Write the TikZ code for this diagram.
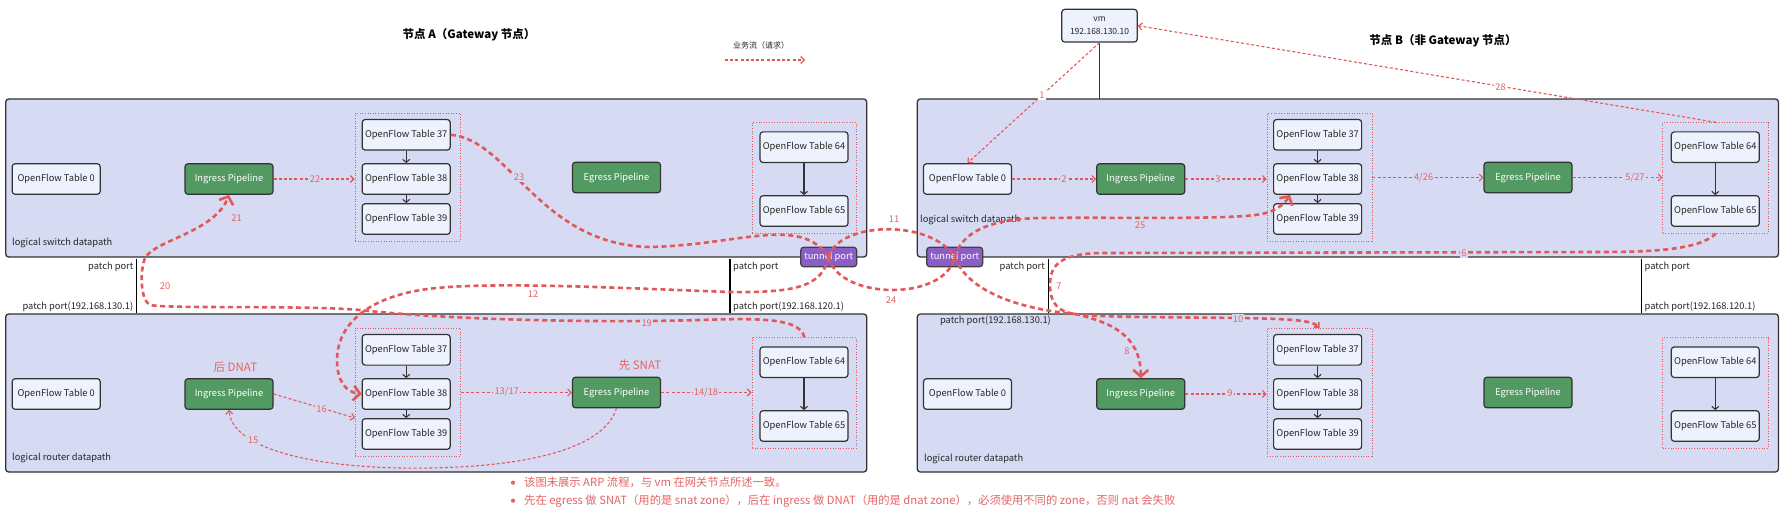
\documentclass[tikz,border=0pt]{standalone}
\usepackage{fontspec}
\setmainfont{Noto Sans CJK SC}
\usetikzlibrary{arrows.meta,calc}
\definecolor{panelc}{RGB}{214,219,243}
\definecolor{boxc}{RGB}{238,242,252}
\definecolor{greenc}{RGB}{82,154,98}
\definecolor{purc}{RGB}{138,93,199}
\definecolor{flowc}{RGB}{226,88,88}
\definecolor{labc}{RGB}{228,100,100}
\definecolor{edgec}{RGB}{51,51,51}
\newcommand\myfs{\fontsize{9.3pt}{11pt}\selectfont}
\newcommand\mytitlefs{\fontsize{11.5pt}{13pt}\selectfont\bfseries}
\newcommand\mynotefs{\fontsize{11.3pt}{13pt}\selectfont}
\tikzset{
  panel/.style={draw=edgec, fill=panelc, line width=1.3pt, rounded corners=3pt},
  grp/.style={draw=flowc, line width=0.9pt, dash pattern=on 1pt off 1.6pt, inner sep=0pt},
  tbl/.style={draw=edgec, fill=boxc, line width=1.2pt, rounded corners=3pt, minimum width=88pt, minimum height=30.6pt, inner sep=0pt, font=\myfs, text=black!85},
  pipe/.style={tbl, fill=greenc, text=white},
  tun/.style={draw=black!75, fill=purc, text=white, line width=1.2pt, rounded corners=3pt, minimum width=56pt, minimum height=19.5pt, inner sep=0pt, font=\myfs},
  flow/.style={draw=flowc, line width=1.1pt, dash pattern=on 3pt off 2.2pt, -{Straight Barb[length=3.5pt,width=7pt,line width=1.1pt]}},
  tflow/.style={draw=flowc, line width=2.6pt, dash pattern=on 5pt off 3.5pt},
  bigtip/.style={-{Straight Barb[length=6.5pt,width=15pt,line width=2.6pt]}},
  smalltip/.style={-{Straight Barb[length=3.5pt,width=7pt,line width=1.6pt]}},
  blk/.style={draw=edgec, line width=1.1pt, -{Straight Barb[length=3pt,width=7pt,line width=1.1pt]}},
  lab/.style={font=\myfs, text=labc, fill=panelc, inner sep=1.2pt},
  labw/.style={font=\myfs, text=labc, fill=white, inner sep=1.2pt},
  labn/.style={font=\myfs, text=labc, inner sep=0pt},
  ptxt/.style={font=\myfs, text=black!85, inner sep=0pt},
}
\begin{document}
\begin{tikzpicture}[x=1pt,y=-1pt]
\useasboundingbox (0,0) rectangle (1787,513);
\fill[white] (0,0) rectangle (1787,513);

% panels
\draw[panel] (5.7,99) rectangle (866.7,257);
\draw[panel] (5.7,314) rectangle (866.7,472);
\draw[panel] (917.3,99) rectangle (1778.4,257);
\draw[panel] (917.3,314) rectangle (1778.4,472);

% titles and legend
\node[font=\mytitlefs] (tA) at (469,35) {节点 A（Gateway 节点）};
\node[font=\mytitlefs] (tB) at (1443,40.7) {节点 B（非 Gateway 节点）};
\node[font=\fontsize{8pt}{10pt}\selectfont, text=black!85] (lgt) at (761,45) {业务流（请求）};
\coordinate (lg1) at (725,60);
\coordinate (lg2) at (805,60);
\draw[flow] (lg1) -- (lg2);

% groups
\node[grp, minimum width=105.4pt, minimum height=127.7pt] (aG1) at (407.7,177.2) {};
\node[grp, minimum width=104.7pt, minimum height=110.3pt] (aG2) at (804.3,177.9) {};
\node[grp, minimum width=105pt, minimum height=127.7pt] (bG1) at (1319.5,177.2) {};
\node[grp, minimum width=106pt, minimum height=110.3pt] (bG2) at (1715.8,177.9) {};
\node[grp, minimum width=105.4pt, minimum height=127.7pt] (arG1) at (407.7,392.2) {};
\node[grp, minimum width=104.7pt, minimum height=110.3pt] (arG2) at (804.3,392.9) {};
\node[grp, minimum width=105pt, minimum height=127.7pt] (brG1) at (1319.5,392.2) {};
\node[grp, minimum width=106pt, minimum height=110.3pt] (brG2) at (1715.8,392.9) {};

% node A switch
\node[tbl] (aOF0) at (56.2,179) {OpenFlow Table 0};
\node[pipe] (aIng) at (229,179) {Ingress Pipeline};
\node[tbl] (aT37) at (406.2,134.8) {OpenFlow Table 37};
\node[tbl] (aT38) at (406.2,179) {OpenFlow Table 38};
\node[tbl] (aT39) at (406.2,219) {OpenFlow Table 39};
\node[pipe] (aEgr) at (616.5,177.5) {Egress Pipeline};
\node[tbl] (aT64) at (804,147.2) {OpenFlow Table 64};
\node[tbl] (aT65) at (804,211) {OpenFlow Table 65};
% node A router
\node[tbl] (arOF0) at (56.2,394) {OpenFlow Table 0};
\node[pipe] (arIng) at (229,394) {Ingress Pipeline};
\node[tbl] (arT37) at (406.2,349.8) {OpenFlow Table 37};
\node[tbl] (arT38) at (406.2,394) {OpenFlow Table 38};
\node[tbl] (arT39) at (406.2,434) {OpenFlow Table 39};
\node[pipe] (arEgr) at (616.5,392.5) {Egress Pipeline};
\node[tbl] (arT64) at (804,362.2) {OpenFlow Table 64};
\node[tbl] (arT65) at (804,426) {OpenFlow Table 65};
% node B switch
\node[tbl] (bOF0) at (967.5,179) {OpenFlow Table 0};
\node[pipe] (bIng) at (1140.7,179) {Ingress Pipeline};
\node[tbl] (bT37) at (1317.6,134.8) {OpenFlow Table 37};
\node[tbl] (bT38) at (1317.6,179) {OpenFlow Table 38};
\node[tbl] (bT39) at (1317.6,219) {OpenFlow Table 39};
\node[pipe] (bEgr) at (1528,177.5) {Egress Pipeline};
\node[tbl] (bT64) at (1715.3,147.2) {OpenFlow Table 64};
\node[tbl] (bT65) at (1715.3,211) {OpenFlow Table 65};
% node B router
\node[tbl] (brOF0) at (967.5,394) {OpenFlow Table 0};
\node[pipe] (brIng) at (1140.7,394) {Ingress Pipeline};
\node[tbl] (brT37) at (1317.6,349.8) {OpenFlow Table 37};
\node[tbl] (brT38) at (1317.6,394) {OpenFlow Table 38};
\node[tbl] (brT39) at (1317.6,434) {OpenFlow Table 39};
\node[pipe] (brEgr) at (1528,392.5) {Egress Pipeline};
\node[tbl] (brT64) at (1715.3,362.2) {OpenFlow Table 64};
\node[tbl] (brT65) at (1715.3,426) {OpenFlow Table 65};

% black arrows
\foreach \p in {a,ar,b,br}{
  \draw[blk] (\p T37.south) -- (\p T38.north);
  \draw[blk] (\p T38.south) -- (\p T39.north);
  \draw[blk] (\p T64.south) -- (\p T65.north);
}

% panel labels
\node[ptxt, anchor=west] (dA1) at (12,243) {logical switch datapath};
\node[ptxt, anchor=west] (dB1) at (920,219.5) {logical switch datapath};
\node[ptxt, anchor=west] (dA2) at (12,458) {logical router datapath};
\node[ptxt, anchor=west] (dB2) at (924,458.5) {logical router datapath};

% vm
\node[tbl, minimum width=75.5pt, minimum height=32.7pt, align=center, font=\fontsize{8.5pt}{13pt}\selectfont] (vm) at (1099.5,25.7) {vm\\192.168.130.10};
\coordinate (vmB) at (1099.5,99);
\draw[edgec, line width=1.1pt] (vm.south) -- (vmB);

% patch ports
\coordinate (p1a) at (136.6,258.5); \coordinate (p1b) at (136.6,312.5);
\coordinate (p2a) at (730,258.5); \coordinate (p2b) at (730,312.5);
\coordinate (p3a) at (1048.3,258.5); \coordinate (p3b) at (1048.3,312.5);
\coordinate (p4a) at (1641.4,258.5); \coordinate (p4b) at (1641.4,312.5);
\foreach \q in {1,2,3,4}{\draw[black, line width=1.2pt] (p\q a) -- (p\q b);}
\node[ptxt, anchor=east] (pt1) at (133.5,266.7) {patch port};
\node[ptxt, anchor=east] (pt2) at (133.5,306.7) {patch port(192.168.130.1)};
\node[ptxt, anchor=west] (pt3) at (733,266.7) {patch port};
\node[ptxt, anchor=west] (pt4) at (733,306.7) {patch port(192.168.120.1)};
\node[ptxt, anchor=east] (pt5) at (1045,266.7) {patch port};
\node[ptxt, anchor=east] (pt6) at (1051,320.7) {patch port(192.168.130.1)};
\node[ptxt, anchor=west] (pt7) at (1644.5,266.7) {patch port};
\node[ptxt, anchor=west] (pt8) at (1644.5,306.7) {patch port(192.168.120.1)};

% tunnel ports
\node[tun] (aTun) at (828.7,257) {tunnel port};
\node[tun] (bTun) at (954.7,257) {tunnel port};

% NAT notes
\node[font=\fontsize{11.5pt}{13pt}\selectfont, text=labc] (tDN) at (235.4,366.7) {后 DNAT};
\node[font=\fontsize{11.5pt}{13pt}\selectfont, text=labc] (tSN) at (640,365) {先 SNAT};

% thin flows
\draw[flow] (vm.south) -- (bOF0.north);
\draw[flow] (bOF0.east) -- (bIng.west);
\draw[flow] (bIng.east) -- (bIng.east -| bG1.west);
\draw[flow] (bG1.east |- bEgr.west) -- (bEgr.west);
\draw[flow] (bEgr.east) -- (bEgr.east -| bG2.west);
\draw[flow] (bG2.north) -- (vm.east);
\draw[flow] (aIng.east) -- (aIng.east -| aG1.west);
\draw[flow] (brIng.east) -- (brIng.east -| brG1.west);
\draw[flow] (arG1.east |- arEgr.west) -- (arEgr.west);
\draw[flow] (arEgr.east) -- (arEgr.east -| arG2.west);
\coordinate (c16) at (355,418);
\draw[flow] (arIng.east) -- (c16);
\draw[flow] (arEgr.south) .. controls (605,445) and (540,466) .. (430,468) .. controls (320,470) and (232,450) .. (arIng.south);

% thick flows
\coordinate (J) at (1075,314);
\draw[tflow] (aT37.east) .. controls (510,140) and (540,245) .. (650,247) .. controls (740,245) and (800,215) .. (aTun.center);
\draw[tflow] (aTun.center) .. controls (838,222) and (930,218) .. (bTun.center);
\draw[tflow] (aTun.center) .. controls (838,300) and (945,302) .. (bTun.center);
\draw[tflow, bigtip] (aTun.center) .. controls (822,285) and (800,293) .. (730,292) .. controls (640,289) and (480,280) .. (421,290) .. controls (360,300) and (337,330) .. (337,360) .. controls (337,380) and (345,392) .. (arT38.west);
\draw[tflow, bigtip] (arG2.north) .. controls (800,318) and (760,318) .. (700,320) .. controls (600,323) and (450,320) .. (360,310) .. controls (300,305) and (170,309) .. (150,305) .. controls (140,300) and (140,270) .. (145,258) .. controls (155,240) and (215,232) .. (aIng.south);
\draw[tflow, bigtip] (bTun.center) .. controls (962,232) and (990,219) .. (1040,218) .. controls (1120,217) and (1230,220) .. (1262,214) .. controls (1275,211) and (1284,205) .. ($(bT38.south west)+(17,0)$);
\draw[tflow] (bG2.south) .. controls (1700,250) and (1650,252) .. (1600,252) -- (1100,253) .. controls (1060,254) and (1050,265) .. (1050,285) .. controls (1050,305) and (1060,312) .. (J);
\draw[tflow] (bTun.center) .. controls (968,292) and (1020,309) .. (J);
\draw[tflow, bigtip] (J) .. controls (1110,322) and (1141,335) .. (brIng.north);
\draw[tflow, smalltip] (J) .. controls (1090,317) and (1150,317) .. (1240,318) .. controls (1290,319) and (1312,320) .. (brG1.north);

% flow labels
\node[labw] (n1) at (1042,95) {1};
\node[lab] (n2) at (1064,179) {2};
\node[lab] (n3) at (1218,179) {3};
\node[lab] (n4) at (1423.6,177.5) {4/26};
\node[lab] (n5) at (1635,177.5) {5/27};
\node[lab] (n6) at (1464,253) {6};
\node[labn] (n7) at (1059,286) {7};
\node[labn] (n8) at (1127,351) {8};
\node[lab] (n9) at (1230,393.5) {9};
\node[lab] (n10) at (1238,319) {10};
\node[labn] (n11) at (894,219) {11};
\node[labn] (n12) at (533,294) {12};
\node[lab] (n13) at (506.7,392) {13/17};
\node[lab] (n14) at (706,393) {14/18};
\node[lab] (n15) at (253,440) {15};
\node[lab] (n16) at (321.5,409) {16};
\node[lab] (n19) at (646.7,323) {19};
\node[labn] (n20) at (165,286) {20};
\node[labn] (n21) at (236.5,218.5) {21};
\node[lab] (n22) at (315,179) {22};
\node[lab] (n23) at (519,177) {23};
\node[labn] (n24) at (891,300) {24};
\node[labn] (n25) at (1140,225) {25};
\node[labw] (n28) at (1500.5,87) {28};

% notes
\fill[labc] (513,482.7) circle (2.1pt);
\fill[labc] (513,500.7) circle (2.1pt);
\node[font=\mynotefs, text=labc, inner sep=0pt, anchor=west] (note1) at (524,482.7) {该图未展示 ARP 流程，与 vm 在网关节点所述一致。};
\node[font=\mynotefs, text=labc, inner sep=0pt, anchor=west] (note2) at (524,500.7) {先在 egress 做 SNAT（用的是 snat zone），后在 ingress 做 DNAT（用的是 dnat zone），必须使用不同的 zone，否则 nat 会失败};
\end{tikzpicture}
\end{document}
